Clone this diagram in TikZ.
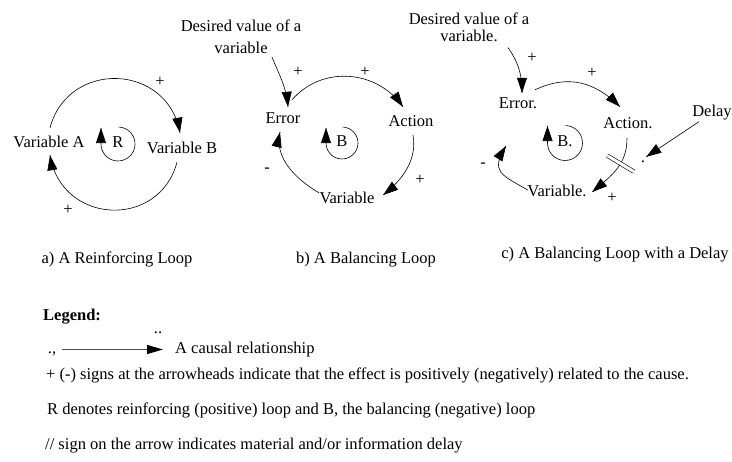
\documentclass[tikz,border=0pt]{standalone}
\usepackage{fontspec}
\setmainfont{Liberation Serif}
\usetikzlibrary{arrows.meta,decorations.markings}

\begin{document}
\begin{tikzpicture}[x=1pt,y=1pt,
		font=\fontsize{16.5}{18}\selectfont,
		lbl/.style={inner sep=1pt, text height=11.5pt, text depth=3.5pt},
		sgn/.style={inner sep=1pt},
		desire/.style={inner sep=1pt, align=center, font=\fontsize{16.5}{#1}\selectfont},
		causal/.style={line width=0.6pt, postaction={decorate},
			decoration={markings, mark=at position 0.9995 with {\arrow{Triangle[length=15pt,width=10pt]}}}},
		legarrow/.style={line width=1.3pt, draw=black!70, -{Triangle[length=16pt,width=9pt,color=black]}}]
			%%%%% START %%%%%
			\useasboundingbox (0,0) rectangle (732,462);
			
			% a) reinforcing loop
			\node[lbl] (aVarA) at (49,318) {Variable A};
			\node[lbl] (aVarB) at (182,312) {Variable B};
			\node[lbl] (aR) at (118,318) {R};
			\node[sgn] (aPlusTop) at (160,380) {+};
			\node[sgn] (aPlusBot) at (68,252) {+};
			\draw[causal] ([shift={(1,7.5)}]aVarA.north) to[out=75,in=100,looseness=1.39] ([shift={(-2,8.5)}]aVarB.north);
			\draw[causal] ([shift={(-5,-3.5)}]aVarB.south) to[out=255,in=-81,looseness=1.41] ([shift={(1,-2.5)}]aVarA.south);
			\draw[causal] (aR.center) ++(88:17) arc[start angle=88,end angle=-180,radius=17] -- ++(0,16);
			
			% b) balancing loop
			\node[desire=22] (bDesire) at (241,425) {Desired value of a\\variable};
			\node[lbl] (bErr) at (283,342) {Error};
			\node[lbl] (bAct) at (411,339) {Action};
			\node[lbl] (bVar) at (347,262) {Variable};
			\node[lbl] (bB) at (342,319) {B};
			\node[sgn] (bPlusIn) at (298,390) {+};
			\node[sgn] (bPlusTop) at (365,390) {+};
			\node[sgn] (bPlusRight) at (420,282) {+};
			\node[sgn] (bMinus) at (267,292) {-};
			\draw[causal] ([shift={(31,-2)}]bDesire.south) to[out=-68,in=95] ([shift={(5,4.5)}]bErr.north);
			\draw[causal] ([shift={(9,11.5)}]bErr.north) to[out=49,in=125,looseness=1.05] ([shift={(-8,7.5)}]bAct.north);
			\draw[causal] ([shift={(2,-3.5)}]bAct.south) to[out=-80,in=38,looseness=0.95] ([shift={(7.5,5)}]bVar.east);
			\draw[causal] ([shift={(0.5,-1.5)}]bVar.north west) to[out=149,in=-103,looseness=0.95] ([shift={(-3,-3.5)}]bErr.south);
			\draw[causal] (bB.center) ++(88:16) arc[start angle=88,end angle=-180,radius=16] -- ++(0,15);
			
			% c) balancing loop with a delay
			\node[desire=17] (cDesire) at (469,435) {Desired value of a\\variable.};
			\node[lbl] (cErr) at (518,357) {Error.};
			\node[lbl] (cAct) at (628,337) {Action.};
			\node[lbl] (cVar) at (557,269) {Variable.};
			\node[lbl] (cDelay) at (712,349) {Delay};
			\node[lbl] (cDot) at (643,303) {.};
			\node[lbl] (cB) at (565,319) {B.};
			\coordinate (cTip) at (506,316);
			\node[sgn] (cPlusIn) at (532,404) {+};
			\node[sgn] (cPlusTop) at (592,389) {+};
			\node[sgn] (cPlusRight) at (612,264) {+};
			\node[sgn] (cMinus) at (483,297) {-};
			\draw[causal] ([shift={(39,-5)}]cDesire.south) to[out=-55,in=90] ([shift={(4,3.5)}]cErr.north);
			\draw[causal] ([shift={(17,6.5)}]cErr.north) to[out=25,in=135,looseness=1.07] ([shift={(-8,9.5)}]cAct.north);
			\draw[causal] ([shift={(-1,-4.5)}]cAct.south) to[out=-90,in=40,looseness=1.05] coordinate[pos=0.4] (cGap) ([shift={(4.5,1)}]cVar.east);
			\draw[line width=0.6pt, double distance=3pt] ([shift={(149:15.5)}]cGap) -- ([shift={(-31:15.5)}]cGap);
			\draw[causal] (cDelay) -- (cDot);
			\draw[causal] ([shift={(1.5,3)}]cVar.west) to[out=150,in=-122,looseness=1.6] (cTip);
			\draw[causal] (cB.center) ++(88:17.5) arc[start angle=88,end angle=-180,radius=17.5] -- ++(0,17);
			
			% titles
			\node[lbl] (titleA) at (117,202) {a) A Reinforcing Loop};
			\node[lbl] (titleB) at (366,202) {b) A Balancing Loop};
			\node[lbl] (titleC) at (615,207) {c) A Balancing Loop with a Delay};
			
			% legend
			\node[lbl, anchor=west] (lgHead) at (42,145) {\textbf{Legend:}};
			\node[lbl] (lgDots) at (158,132) {..};
			\node[lbl] (lgCause) at (52,112.5) {.,};
			\node[lbl, anchor=west] (lgText) at (174,112.5) {A causal relationship};
			\draw[legarrow, shorten <=5pt, shorten >=11pt] (lgCause) -- (lgText);
			\node[lbl, anchor=west] (lgSigns) at (45,86) {+ (-) signs at the arrowheads indicate that the effect is positively (negatively) related to the cause.};
			\node[lbl, anchor=west] (lgLoops) at (46,51) {R denotes reinforcing (positive) loop and B, the balancing (negative) loop};
			\node[lbl, anchor=west] (lgDelay) at (44,16) {// sign on the arrow indicates material and/or information delay};
			%%%%% END %%%%%
		\end{tikzpicture}
\end{document}
